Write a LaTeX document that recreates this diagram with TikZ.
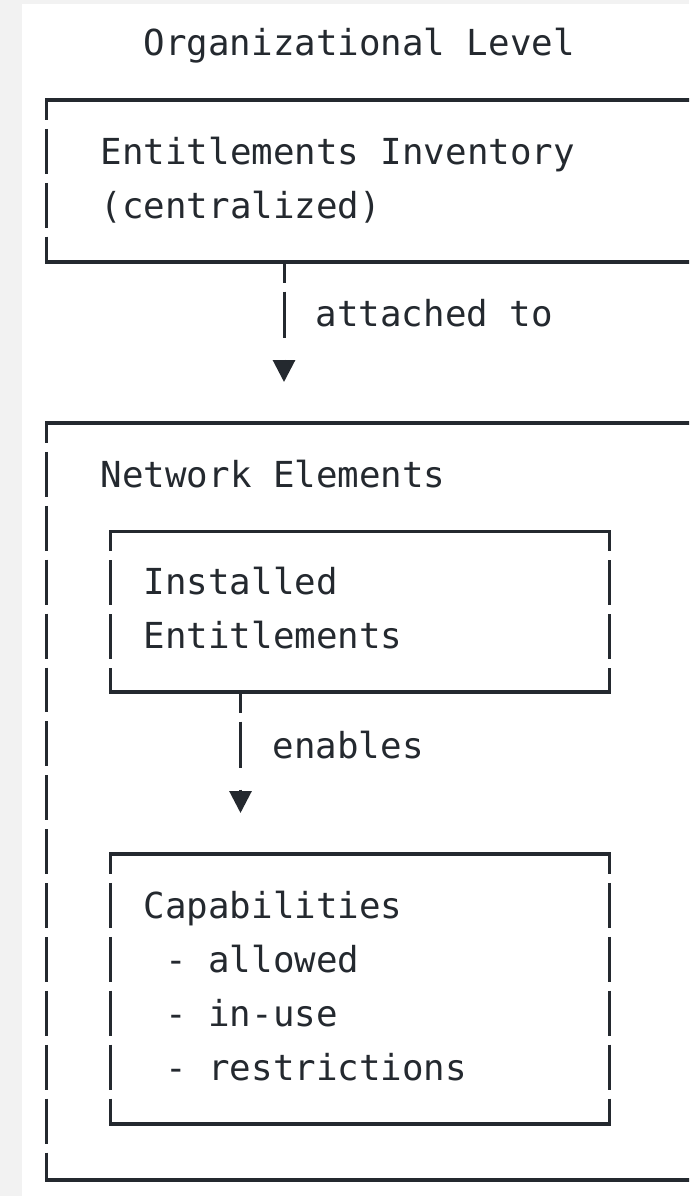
\documentclass[tikz,border=0pt]{standalone}
\usepackage{fontspec}
\setmonofont{DejaVu Sans Mono}
\usetikzlibrary{arrows.meta}
\definecolor{ink}{HTML}{24292F}
\definecolor{margin}{HTML}{F2F2F2}
\tikzset{
    ascii/.style ={
        anchor=base west,
        inner sep=0pt,
        align=left,
        text=ink,
        font=\ttfamily\fontsize{35.8}{53.9}\selectfont
    },
    hline/.style ={
        draw=ink,
        line width=3.2pt,
        line cap=rect
    },
    vline/.style ={
        draw=ink,
        line width=3pt,
        dash pattern=on 44.9pt off 9pt,
        dash phase=25pt
    },
    flow/.style ={
        draw=ink,
        line width=3pt,
        dash pattern=on 21pt off 8.5pt on 46pt off 22pt,
        shorten >=41pt,
        -{Triangle[length=22pt,width=22pt]}
    }
}

\begin{document}
\begin{tikzpicture}[x=1pt,y=-1pt]
    \useasboundingbox (0,0) rectangle (689,1196);
    \clip (0,0) rectangle (689,1196);
    \fill[white] (0,0) rectangle (689,1196);
    \fill[margin] (0,0) rectangle (22,1196);
    \fill[margin] (0,0) rectangle (689,4);

    \node[ascii] (title) at (143.5,56) {Organizational Level};

    \draw[hline] (46.5,100) -- (730,100);
    \draw[hline] (46.5,262) -- (730,262);
    \draw[vline] (46.5,100) -- (46.5,262);
    \node[ascii] (inventory) at (100.5,218) {Entitlements Inventory\\(centralized)};

    \coordinate (invfoot) at (284,262);
    \coordinate (nethead) at (284,423);
    \draw[flow] (invfoot) -- (nethead);
    \node[ascii] (attach) at (315.5,326) {attached to};

    \draw[hline] (46.5,423) -- (730,423);
    \draw[hline] (46.5,1180) -- (730,1180);
    \draw[vline] (46.5,423) -- (46.5,1180);
    \node[ascii] (network) at (100.5,487) {Network Elements};

    \draw[hline] (110.5,531.5) -- (609,531.5);
    \draw[hline] (110.5,692) -- (609,692);
    \draw[vline] (110.5,531.5) -- (110.5,692);
    \draw[vline] (609,531.5) -- (609,692);
    \node[ascii] (installed) at (143.5,648) {Installed\\Entitlements};

    \coordinate (instfoot) at (240.5,692);
    \coordinate (capshead) at (240.5,854);
    \draw[flow] (instfoot) -- (capshead);
    \node[ascii] (enables) at (272.5,758) {enables};

    \draw[hline] (110.5,854) -- (609,854);
    \draw[hline] (110.5,1124) -- (609,1124);
    \draw[vline] (110.5,854) -- (110.5,1124);
    \draw[vline] (609,854) -- (609,1124);
    \node[ascii] (capabilities) at (143.5,1080) {Capabilities\\\phantom{-}- allowed\\\phantom{-}- in-use\\\phantom{-}- restrictions};
\end{tikzpicture}
\end{document}
